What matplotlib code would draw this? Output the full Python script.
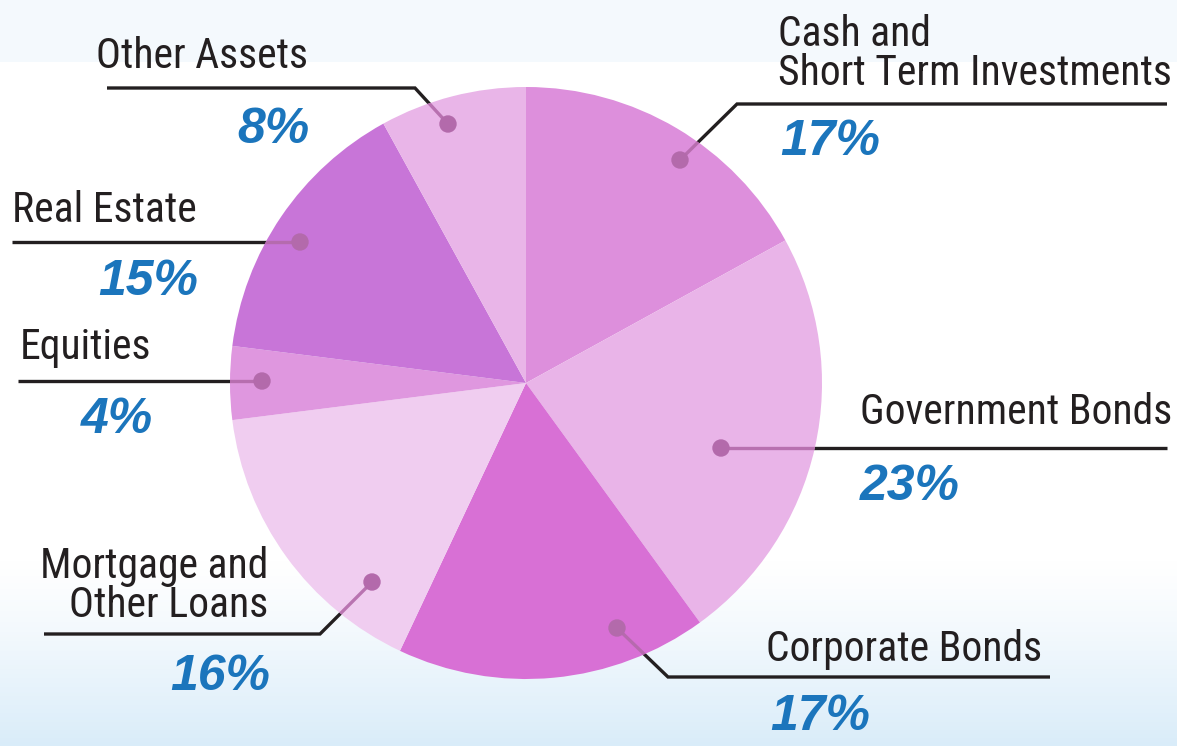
import numpy as np
import matplotlib
matplotlib.use("Agg")
from matplotlib import pyplot as plt
from matplotlib.patches import Circle

labels = ["Cash and\nShort Term Investments", "Government Bonds", "Corporate Bonds",
          "Mortgage and\nOther Loans", "Equities", "Real Estate", "Other Assets"]
values = [17, 23, 17, 16, 4, 15, 8]
colors = ["#dd8fdc", "#e9b4e8", "#d870d5", "#f0cdf0", "#df97df", "#c875d8", "#e9b5e8"]

W, H = 1177, 746
cx, cy, R = 526, 383, 296

# leader lines (pixel coords, first point = dot on slice)
leaders = [
    [(680, 160), (737, 104), (1167, 104)],
    [(721, 448), (1167, 448)],
    [(617, 628), (668, 677), (1050, 677)],
    [(372, 582), (320, 634), (44, 634)],
    [(262, 381), (18, 381)],
    [(300, 242), (12, 242)],
    [(448, 124), (415, 88), (107, 88)],
]
# label text placement: (x, y, ha), pct placement: (x, y, ha)
lab_pos = [(778, 54, "left"), (860, 413, "left"), (766, 650, "left"),
           (268, 586, "right"), (20, 348, "left"), (12, 210, "left"), (308, 57, "right")]
pct_pos = [(780, 142, "left"), (860, 487, "left"), (770, 717, "left"),
           (270, 677, "right"), (153, 420, "right"), (198, 282, "right"), (310, 130, "right")]

fig = plt.figure(figsize=(W / 100, H / 100), dpi=100)
ax = fig.add_axes([0, 0, 1, 1])

# background: pale band at top, light blue wash at bottom
rows = np.ones((H, 1, 3))
top = np.array([0xf4, 0xf9, 0xfd]) / 255
bot = np.array([0xd9, 0xec, 0xf9]) / 255
for y in range(H):
    if y < 62:
        rows[y, 0] = top
    elif y > 560:
        t = min(1, (y - 560) / 186) ** 1.2
        rows[y, 0] = (1 - t) * np.ones(3) + t * bot
ax.imshow(rows, extent=(0, W, H, 0), aspect="auto", zorder=0)

wedges, _ = ax.pie(values, colors=colors, startangle=-90, counterclock=True,
                   center=(cx, cy), radius=R, wedgeprops=dict(linewidth=0, zorder=2))
for w in wedges:
    w.set_zorder(2)

clip = Circle((cx, cy), R, transform=ax.transData)
for pts in leaders:
    xs = [p[0] for p in pts]
    ys = [p[1] for p in pts]
    ax.plot(xs, ys, color="#231f20", lw=2.4, zorder=1, solid_capstyle="butt",
            solid_joinstyle="miter")
    seg, = ax.plot(xs[:2], ys[:2], color="#b36aaa", lw=2.4, zorder=3, alpha=0.9)
    seg.set_clip_path(clip)
    ax.add_patch(Circle(pts[0], 8, color="#b36aab", zorder=4))

lab_font = ["Roboto Condensed", "Liberation Sans Narrow", "Liberation Sans", "DejaVu Sans"]
for lab, (x, y, ha) in zip(labels, lab_pos):
    ax.text(x, y, lab, ha=ha, va="center", fontsize=30, color="#231f20",
            family=lab_font, fontstretch="condensed", linespacing=0.92, zorder=5)
for v, (x, y, ha) in zip(values, pct_pos):
    ax.text(x, y, f"{v}%", ha=ha, va="center", fontsize=36, color="#1b75bc",
            family=["Liberation Sans", "DejaVu Sans"], fontweight="bold",
            style="italic", zorder=5)

ax.set_xlim(0, W)
ax.set_ylim(H, 0)
ax.set_aspect("equal")
ax.axis("off")
fig.savefig("out.png", dpi=100)
